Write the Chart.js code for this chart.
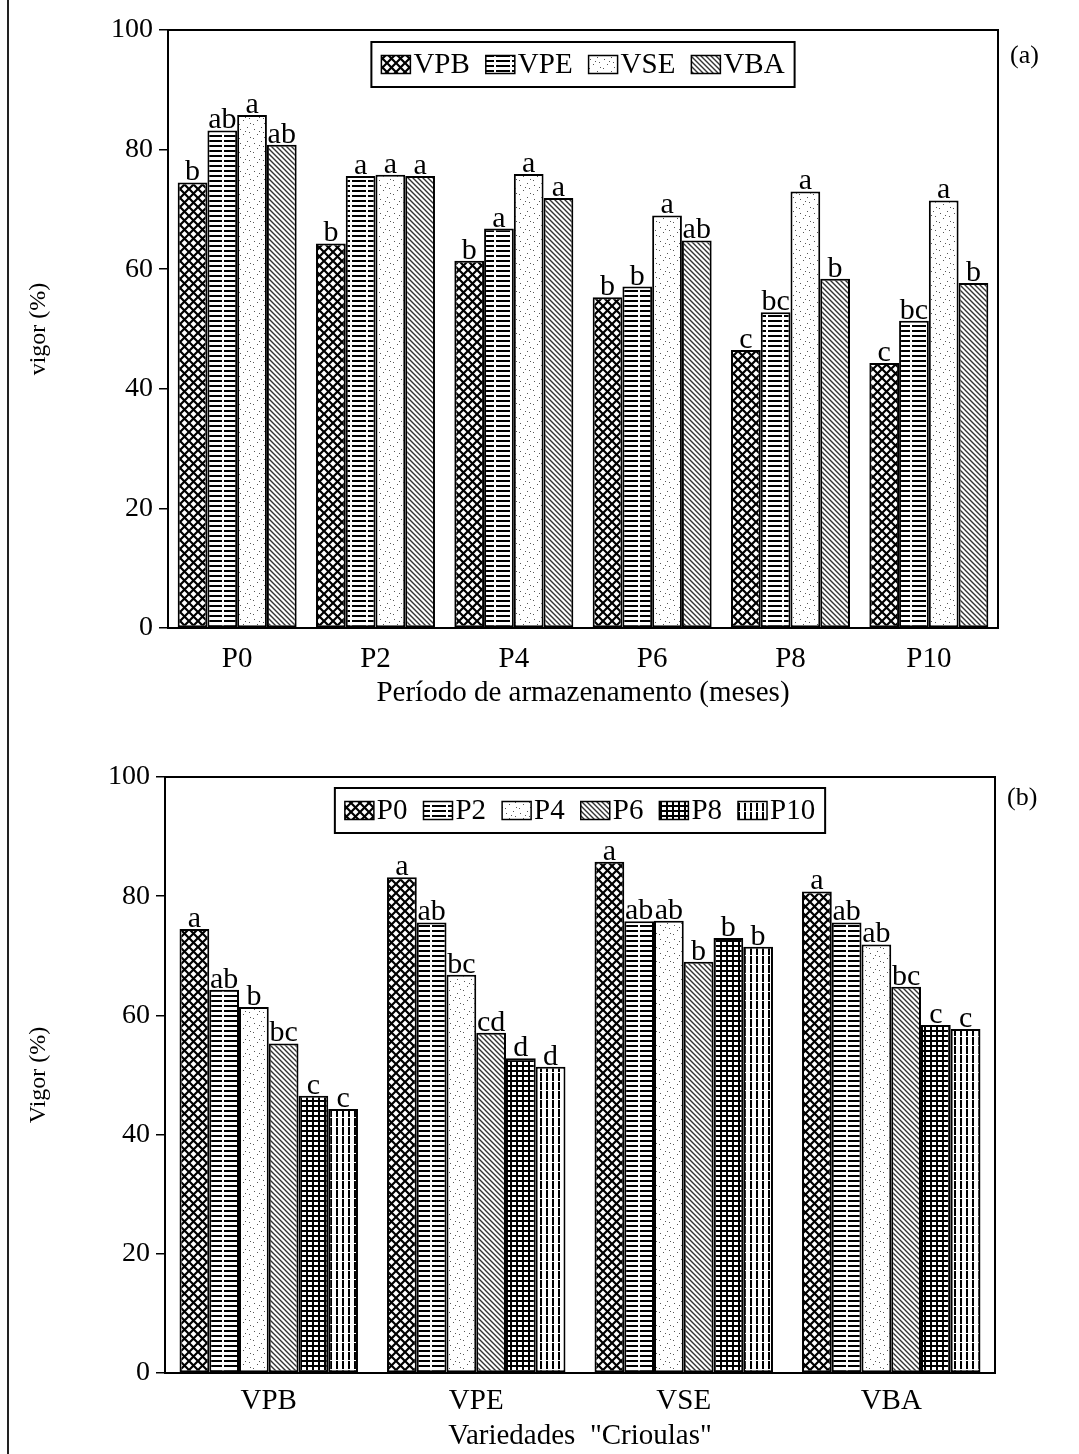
<!DOCTYPE html>
<html>
<head>
<meta charset="utf-8">
<script src="https://cdn.jsdelivr.net/npm/chart.js@4.4.0/dist/chart.umd.min.js"></script>
<style>
  html, body { margin: 0; padding: 0; background: #fff; }
  #pagina { position: relative; width: 1079px; height: 1454px; overflow: hidden; }
  #moldura { position: absolute; left: 7px; top: 0; width: 2px; height: 1454px; background: #222; }
  canvas { position: absolute; left: 0; }
  #graficoA { top: 0; }
  #graficoB { top: 740px; }
</style>
</head>
<body>
<div id="pagina">
  <div id="moldura"></div>
  <canvas id="graficoA" width="1079" height="740"></canvas>
  <canvas id="graficoB" width="1079" height="714"></canvas>
</div>
<script>
const periodos = ['P0', 'P2', 'P4', 'P6', 'P8', 'P10'];
const variedades = ['VPB', 'VPE', 'VSE', 'VBA'];
const ticksVigor = [0, 20, 40, 60, 80, 100];

// vigor (%) de cada variedade ao longo do armazenamento (P0..P10)
const vigorVPB = [74.5, 64.3, 61.4, 55.3, 46.5, 44.3];
const vigorVPE = [83.2, 75.6, 66.8, 57.1, 52.8, 51.4];
const vigorVSE = [85.8, 75.8, 75.9, 69.0, 73.0, 71.5];
const vigorVBA = [80.8, 75.6, 71.9, 64.8, 58.4, 57.7];

// (a) letras comparando as variedades dentro de cada período
const letrasA_VPB = ['b', 'b', 'b', 'b', 'c', 'c'];
const letrasA_VPE = ['ab', 'a', 'a', 'b', 'bc', 'bc'];
const letrasA_VSE = ['a', 'a', 'a', 'a', 'a', 'a'];
const letrasA_VBA = ['ab', 'a', 'a', 'ab', 'b', 'b'];

// (b) letras comparando os períodos dentro de cada variedade
const letrasB_VPB = ['a', 'ab', 'b', 'bc', 'c', 'c'];
const letrasB_VPE = ['a', 'ab', 'bc', 'cd', 'd', 'd'];
const letrasB_VSE = ['a', 'ab', 'ab', 'b', 'b', 'b'];
const letrasB_VBA = ['a', 'ab', 'ab', 'bc', 'c', 'c'];

const SERIF = '"Liberation Serif", "Times New Roman", serif';
Chart.defaults.font.family = SERIF;
Chart.defaults.color = '#000';

// hachuras em preto e branco
function textura(tipo) {
    const c = document.createElement('canvas');
    const g = c.getContext('2d');
    let w = 8, h = 8;
    if (tipo === 'xadrez') { w = 9; h = 9; }
    if (tipo === 'horizontal') { w = 16; h = 5; }
    if (tipo === 'pontos') { w = 14; h = 14; }
    if (tipo === 'diagonal') { w = 5; h = 5; }
    if (tipo === 'grade') { w = 6; h = 5; }
    if (tipo === 'vertical') { w = 6; h = 9; }
    c.width = w; c.height = h;
    g.fillStyle = '#fff';
    g.fillRect(0, 0, w, h);
    g.fillStyle = '#000';
    g.strokeStyle = '#000';
    if (tipo === 'xadrez') {
        g.lineWidth = 2.2;
        g.beginPath();
        g.moveTo(-1, -1); g.lineTo(w + 1, h + 1);
        g.moveTo(w + 1, -1); g.lineTo(-1, h + 1);
        g.stroke();
    } else if (tipo === 'horizontal') {
        g.fillRect(0, 0, 14, 2);
    } else if (tipo === 'pontos') {
        g.fillStyle = '#555';
        [[2, 3], [9, 1], [5, 8], [12, 11], [1, 12], [7, 5], [11, 6]].forEach(p => g.fillRect(p[0], p[1], 1, 1));
    } else if (tipo === 'diagonal') {
        g.lineWidth = 1.4;
        g.strokeStyle = '#333';
        g.beginPath();
        g.moveTo(-1, -1); g.lineTo(w + 1, h + 1);
        g.moveTo(-w - 1, -1); g.lineTo(1, h + 1);
        g.moveTo(w - 1, -1); g.lineTo(2 * w + 1, h + 1);
        g.stroke();
    } else if (tipo === 'grade') {
        g.fillRect(0, 0, w, 2);
        g.fillRect(0, 0, 2, h);
    } else if (tipo === 'vertical') {
        g.fillRect(0, 0, 2, 8);
    }
    return g.createPattern(c, 'repeat');
}

const texturasVar = ['xadrez', 'horizontal', 'pontos', 'diagonal'].map(textura);
const texturasPer = ['xadrez', 'horizontal', 'pontos', 'diagonal', 'grade', 'vertical'].map(textura);

const moldura = {
    id: 'moldura',
    afterDraw(chart) {
        const { ctx, chartArea: a } = chart;
        ctx.save();
        ctx.strokeStyle = '#000';
        ctx.lineWidth = 2;
        ctx.strokeRect(a.left, a.top, a.right - a.left, a.bottom - a.top);
        ctx.restore();
    }
};

const letras = {
    id: 'letras',
    afterDatasetsDraw(chart) {
        const ctx = chart.ctx;
        ctx.save();
        ctx.font = '30px ' + SERIF;
        ctx.fillStyle = '#000';
        ctx.textAlign = 'center';
        ctx.textBaseline = 'alphabetic';
        chart.data.datasets.forEach((ds, i) => {
            chart.getDatasetMeta(i).data.forEach((bar, j) => {
                ctx.fillText(ds.letras[j], bar.x, bar.y - 2);
            });
        });
        ctx.restore();
    }
};

// legenda em caixa, desenhada dentro da área do gráfico
const legendaInterna = {
    id: 'legendaInterna',
    afterDraw(chart, args, opts) {
        const ctx = chart.ctx;
        const a = chart.chartArea;
        ctx.save();
        ctx.font = '29px ' + SERIF;
        const itens = chart.data.datasets.map(ds => ({
            texto: ds.label,
            cor: ds.backgroundColor,
            w: ctx.measureText(ds.label).width
        }));
        const amostraL = 29, amostraA = 18, folga = 3, espaco = 16, margem = 10;
        let total = margem * 2 + espaco * (itens.length - 1);
        itens.forEach(it => { total += amostraL + folga + it.w; });
        const x0 = (a.left + a.right) / 2 - total / 2;
        ctx.fillStyle = '#fff';
        ctx.fillRect(x0, opts.topo, total, opts.altura);
        ctx.strokeStyle = '#000';
        ctx.lineWidth = 2;
        ctx.strokeRect(x0, opts.topo, total, opts.altura);
        const meio = opts.topo + opts.altura / 2;
        let cx = x0 + margem;
        itens.forEach(it => {
            ctx.fillStyle = it.cor;
            ctx.fillRect(cx, meio - amostraA / 2, amostraL, amostraA);
            ctx.lineWidth = 1.5;
            ctx.strokeRect(cx, meio - amostraA / 2, amostraL, amostraA);
            cx += amostraL + folga;
            ctx.fillStyle = '#000';
            ctx.textAlign = 'left';
            ctx.textBaseline = 'middle';
            ctx.fillText(it.texto, cx, meio + 1);
            cx += it.w + espaco;
        });
        // identificação do painel, (a) ou (b)
        ctx.font = '26px ' + SERIF;
        ctx.textAlign = 'left';
        ctx.fillText(opts.painel, a.right + 12, opts.yPainel);
        ctx.restore();
    }
};

function eixos(cfg) {
    return {
        x: {
            grid: { display: false },
            border: { display: true, color: '#000', width: 2 },
            ticks: { color: '#000', font: { size: 29 }, padding: cfg.padRotulo },
            title: {
                display: true, text: cfg.tituloX, color: '#000',
                font: { size: 29 }, padding: { top: 0, bottom: cfg.padTitulo }
            },
            afterFit: s => { s.height = cfg.alturaX; }
        },
        y: {
            min: 0,
            max: 100,
            afterBuildTicks: s => { s.ticks = ticksVigor.map(v => ({ value: v })); },
            grid: { drawOnChartArea: false, color: '#000', lineWidth: 1.5, tickLength: 9 },
            border: { color: '#000', width: 2 },
            ticks: { color: '#000', font: { size: 28 }, padding: 6 },
            title: {
                display: true, text: cfg.tituloY, color: '#000',
                font: { size: 24 }, padding: { top: 24, bottom: 0 }
            },
            afterFit: s => { s.width = cfg.larguraY; }
        }
    };
}

function barras(ds) {
    return Object.assign({
        borderColor: '#000',
        borderWidth: 2,
        borderSkipped: false,
        categoryPercentage: 0.86,
        barPercentage: 1.0
    }, ds);
}

// (a) vigor por período, uma barra por variedade
const seriesVar = [vigorVPB, vigorVPE, vigorVSE, vigorVBA];
const letrasA = [letrasA_VPB, letrasA_VPE, letrasA_VSE, letrasA_VBA];

new Chart(document.getElementById('graficoA'), {
    type: 'bar',
    data: {
        labels: periodos,
        datasets: variedades.map((v, i) => barras({
            label: v,
            data: seriesVar[i],
            letras: letrasA[i],
            backgroundColor: texturasVar[i]
        }))
    },
    options: {
        responsive: false,
        animation: false,
        layout: { padding: { left: 0, right: 81, top: 30, bottom: 0 } },
        plugins: {
            legend: { display: false },
            tooltip: { enabled: false },
            legendaInterna: { topo: 42, altura: 45, painel: '(a)', yPainel: 56 }
        },
        scales: eixos({
            tituloX: 'Período de armazenamento (meses)',
            tituloY: 'vigor (%)',
            alturaX: 112, larguraY: 168, padRotulo: 6, padTitulo: 29
        })
    },
    plugins: [moldura, letras, legendaInterna]
});

// (b) vigor por variedade, uma barra por período
const letrasB = [letrasB_VPB, letrasB_VPE, letrasB_VSE, letrasB_VBA];

new Chart(document.getElementById('graficoB'), {
    type: 'bar',
    data: {
        labels: variedades,
        datasets: periodos.map((p, k) => barras({
            label: p,
            data: seriesVar.map(serie => serie[k]),
            letras: letrasB.map(l => l[k]),
            backgroundColor: texturasPer[k]
        }))
    },
    options: {
        responsive: false,
        animation: false,
        layout: { padding: { left: 0, right: 84, top: 37, bottom: 0 } },
        plugins: {
            legend: { display: false },
            tooltip: { enabled: false },
            legendaInterna: { topo: 48, altura: 45, painel: '(b)', yPainel: 58 }
        },
        scales: eixos({
            tituloX: 'Variedades  "Crioulas"',
            tituloY: 'Vigor (%)',
            alturaX: 81, larguraY: 165, padRotulo: 3, padTitulo: 0
        })
    },
    plugins: [moldura, letras, legendaInterna]
});
</script>
</body>
</html>
